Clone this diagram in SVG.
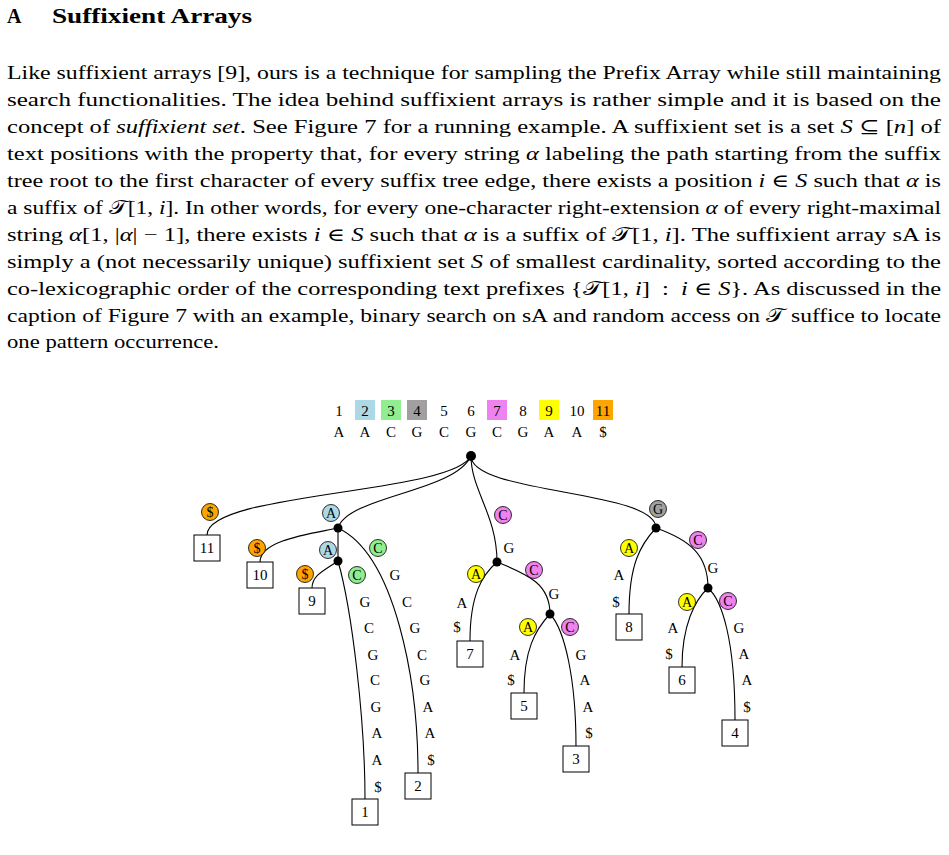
<svg xmlns="http://www.w3.org/2000/svg" width="949" height="855" viewBox="0 0 949 855">
<style>
text{font-family:"Liberation Serif","DejaVu Serif",serif;fill:#000}
.body{font-size:18.5px}
.title{font-size:20px;font-weight:bold}
.it{font-style:italic}
.num{font-size:15px;text-anchor:middle}
.lab{font-size:15px;text-anchor:middle}
.cl{font-size:14px;text-anchor:middle}
.edge{fill:none;stroke:#000;stroke-width:1.1}
.leaf rect{fill:#fff;stroke:#000;stroke-width:1}
.dot{fill:#000}
.c{stroke:#000;stroke-width:0.8}
.cb{fill:#ADD8E6}.cg{fill:#90EE90}.cgr{fill:#A0A0A0}.cv{fill:#EE82EE}.cy{fill:#FFFF00}.co{fill:#FFA500}
</style>
<g id="heading">
<text class="title" x="7" y="23">A</text>
<text class="title" x="52" y="23" textLength="200" lengthAdjust="spacingAndGlyphs">Suffixient Arrays</text>
</g>
<g id="paragraph" class="body">
<text x="7" y="79" textLength="934" lengthAdjust="spacingAndGlyphs">Like suffixient arrays [9], ours is a technique for sampling the Prefix Array while still maintaining</text>
<text x="7" y="106" textLength="934" lengthAdjust="spacingAndGlyphs">search functionalities. The idea behind suffixient arrays is rather simple and it is based on the</text>
<text x="7" y="133" textLength="934" lengthAdjust="spacingAndGlyphs">concept of <tspan class="it">suffixient set</tspan>. See Figure 7 for a running example. A suffixient set is a set <tspan class="it">S</tspan> ⊆ [<tspan class="it">n</tspan>] of</text>
<text x="7" y="160" textLength="934" lengthAdjust="spacingAndGlyphs">text positions with the property that, for every string <tspan class="it">α</tspan> labeling the path starting from the suffix</text>
<text x="7" y="187" textLength="934" lengthAdjust="spacingAndGlyphs">tree root to the first character of every suffix tree edge, there exists a position <tspan class="it">i</tspan> ∈ <tspan class="it">S</tspan> such that <tspan class="it">α</tspan> is</text>
<text x="7" y="214" textLength="934" lengthAdjust="spacingAndGlyphs">a suffix of 𝒯[1, <tspan class="it">i</tspan>]. In other words, for every one-character right-extension <tspan class="it">α</tspan> of every right-maximal</text>
<text x="7" y="241" textLength="934" lengthAdjust="spacingAndGlyphs">string <tspan class="it">α</tspan>[1, |<tspan class="it">α</tspan>| − 1], there exists <tspan class="it">i</tspan> ∈ <tspan class="it">S</tspan> such that <tspan class="it">α</tspan> is a suffix of 𝒯[1, <tspan class="it">i</tspan>]. The suffixient array sA is</text>
<text x="7" y="268" textLength="934" lengthAdjust="spacingAndGlyphs">simply a (not necessarily unique) suffixient set <tspan class="it">S</tspan> of smallest cardinality, sorted according to the</text>
<text x="7" y="295" textLength="934" lengthAdjust="spacingAndGlyphs">co-lexicographic order of the corresponding text prefixes {𝒯[1, <tspan class="it">i</tspan>]&#160;&#160;:&#160;&#160;<tspan class="it">i</tspan> ∈ <tspan class="it">S</tspan>}. As discussed in the</text>
<text x="7" y="322" textLength="934" lengthAdjust="spacingAndGlyphs">caption of Figure 7 with an example, binary search on sA and random access on 𝒯 suffice to locate</text>
<text x="7" y="348" textLength="212" lengthAdjust="spacingAndGlyphs">one pattern occurrence.</text>
</g>
<g id="text-array">
<rect x="355" y="400" width="20" height="20" fill="#ADD8E6"/>
<rect x="381" y="400" width="20" height="20" fill="#90EE90"/>
<rect x="407" y="400" width="20" height="20" fill="#A0A0A0"/>
<rect x="487" y="400" width="20" height="20" fill="#EE82EE"/>
<rect x="539" y="400" width="20" height="20" fill="#FFFF00"/>
<rect x="593" y="400" width="20" height="20" fill="#FFA500"/>
<text class="num" x="339" y="416">1</text><text class="num" x="365" y="416">2</text><text class="num" x="391" y="416">3</text><text class="num" x="417" y="416">4</text><text class="num" x="444" y="416">5</text><text class="num" x="471" y="416">6</text><text class="num" x="497" y="416">7</text><text class="num" x="523" y="416">8</text><text class="num" x="549" y="416">9</text><text class="num" x="577" y="416">10</text><text class="num" x="603" y="416">11</text>
<text class="num" x="339" y="437">A</text><text class="num" x="365" y="437">A</text><text class="num" x="391" y="437">C</text><text class="num" x="417" y="437">G</text><text class="num" x="444" y="437">C</text><text class="num" x="471" y="437">G</text><text class="num" x="497" y="437">C</text><text class="num" x="523" y="437">G</text><text class="num" x="549" y="437">A</text><text class="num" x="577" y="437">A</text><text class="num" x="603" y="437">$</text>
</g>
<g id="connectors">
<path class="edge" d="M471,456 C452,494 207,492 207,535"/>
<path class="edge" d="M471,456 C455,492 348,496 338,528"/>
<path class="edge" d="M471,456 C471,490 497,515 497,562"/>
<path class="edge" d="M471,456 C471,494 656,490 656,528"/>
<path class="edge" d="M338,528 C310,534 260,540 260,562"/>
<path class="edge" d="M338,528 L338,561"/>
<path class="edge" d="M338,528 C395,555 418,680 418,773"/>
<path class="edge" d="M338,561 C325,570 312,575 312,588"/>
<path class="edge" d="M338,561 C352,610 365,720 365,799"/>
<path class="edge" d="M497,562 C482,575 470,595 470,641"/>
<path class="edge" d="M497,562 C530,575 550,585 550,614"/>
<path class="edge" d="M550,614 C535,630 524,650 524,693"/>
<path class="edge" d="M550,614 C565,630 576,680 576,746"/>
<path class="edge" d="M656,528 C640,545 629,565 629,614"/>
<path class="edge" d="M656,528 C690,540 708,555 708,588"/>
<path class="edge" d="M708,588 C695,600 682,625 682,667"/>
<path class="edge" d="M708,588 C722,600 735,640 735,720"/>
</g>
<g id="edge-labels">
<g class="c"><circle class="co" cx="210" cy="512" r="8.5"/><circle class="cb" cx="331" cy="513" r="8.5"/><circle class="co" cx="257" cy="548" r="8.5"/><circle class="cb" cx="328" cy="550" r="8.5"/><circle class="cg" cx="378" cy="548" r="8.5"/><circle class="co" cx="305" cy="574" r="8.5"/><circle class="cg" cx="357" cy="575" r="8.5"/><circle class="cv" cx="503" cy="515" r="8.5"/><circle class="cgr" cx="658" cy="509" r="8.5"/><circle class="cy" cx="476" cy="574" r="8.5"/><circle class="cv" cx="534" cy="570" r="8.5"/><circle class="cy" cx="629" cy="548" r="8.5"/><circle class="cv" cx="698" cy="540" r="8.5"/><circle class="cy" cx="528" cy="627" r="8.5"/><circle class="cv" cx="570" cy="627" r="8.5"/><circle class="cy" cx="687" cy="602" r="8.5"/><circle class="cv" cx="728" cy="601" r="8.5"/></g>
<text class="cl" x="210" y="517">$</text><text class="cl" x="331" y="518">A</text><text class="cl" x="257" y="553">$</text><text class="cl" x="328" y="555">A</text><text class="cl" x="378" y="553">C</text><text class="cl" x="305" y="579">$</text><text class="cl" x="357" y="580">C</text><text class="cl" x="503" y="520">C</text><text class="cl" x="658" y="514">G</text><text class="cl" x="476" y="579">A</text><text class="cl" x="534" y="575">C</text><text class="cl" x="629" y="553">A</text><text class="cl" x="698" y="545">C</text><text class="cl" x="528" y="632">A</text><text class="cl" x="570" y="632">C</text><text class="cl" x="687" y="607">A</text><text class="cl" x="728" y="606">C</text>
<text class="lab" x="509" y="553">G</text><text class="lab" x="554" y="599">G</text><text class="lab" x="713" y="573">G</text>
<text class="lab" x="462" y="608">A</text><text class="lab" x="457" y="632">$</text>
<text class="lab" x="619" y="580">A</text><text class="lab" x="616" y="607">$</text>
<text class="lab" x="515" y="660">A</text><text class="lab" x="511" y="685">$</text>
<text class="lab" x="581" y="660">G</text><text class="lab" x="585" y="685">A</text><text class="lab" x="588" y="712">A</text><text class="lab" x="589" y="738">$</text>
<text class="lab" x="673" y="633">A</text><text class="lab" x="669" y="659">$</text>
<text class="lab" x="739" y="633">G</text><text class="lab" x="744" y="659">A</text><text class="lab" x="747" y="685">A</text><text class="lab" x="747" y="712">$</text>
<text class="lab" x="365" y="607">G</text><text class="lab" x="369" y="633">C</text><text class="lab" x="373" y="660">G</text><text class="lab" x="375" y="685">C</text><text class="lab" x="376" y="712">G</text><text class="lab" x="377" y="738">A</text><text class="lab" x="377" y="765">A</text><text class="lab" x="378" y="792">$</text>
<text class="lab" x="395" y="580">G</text><text class="lab" x="407" y="607">C</text><text class="lab" x="415" y="633">G</text><text class="lab" x="422" y="660">C</text><text class="lab" x="425" y="685">G</text><text class="lab" x="428" y="712">A</text><text class="lab" x="430" y="738">A</text><text class="lab" x="431" y="765">$</text>
</g>
<g id="root"><circle class="dot" cx="471" cy="456" r="5"/></g>
<g id="node-A"><circle class="dot" cx="338" cy="528" r="4.5"/></g>
<g id="node-AA"><circle class="dot" cx="338" cy="561" r="4.5"/></g>
<g id="node-C"><circle class="dot" cx="497" cy="562" r="4.5"/></g>
<g id="node-CG"><circle class="dot" cx="550" cy="614" r="4.5"/></g>
<g id="node-G"><circle class="dot" cx="656" cy="528" r="4.5"/></g>
<g id="node-GCG"><circle class="dot" cx="708" cy="588" r="4.5"/></g>
<g id="leaf-11" class="leaf"><rect x="194" y="535" width="26" height="26"/><text class="num" x="207" y="553">11</text></g>
<g id="leaf-10" class="leaf"><rect x="247" y="562" width="26" height="26"/><text class="num" x="260" y="580">10</text></g>
<g id="leaf-9" class="leaf"><rect x="299" y="588" width="26" height="26"/><text class="num" x="312" y="606">9</text></g>
<g id="leaf-8" class="leaf"><rect x="616" y="614" width="26" height="26"/><text class="num" x="629" y="632">8</text></g>
<g id="leaf-7" class="leaf"><rect x="457" y="641" width="26" height="26"/><text class="num" x="470" y="659">7</text></g>
<g id="leaf-5" class="leaf"><rect x="511" y="693" width="26" height="26"/><text class="num" x="524" y="711">5</text></g>
<g id="leaf-3" class="leaf"><rect x="563" y="746" width="26" height="26"/><text class="num" x="576" y="764">3</text></g>
<g id="leaf-1" class="leaf"><rect x="352" y="799" width="26" height="26"/><text class="num" x="365" y="817">1</text></g>
<g id="leaf-2" class="leaf"><rect x="405" y="773" width="26" height="26"/><text class="num" x="418" y="791">2</text></g>
<g id="leaf-6" class="leaf"><rect x="669" y="667" width="26" height="26"/><text class="num" x="682" y="685">6</text></g>
<g id="leaf-4" class="leaf"><rect x="722" y="720" width="26" height="26"/><text class="num" x="735" y="738">4</text></g>
</svg>
